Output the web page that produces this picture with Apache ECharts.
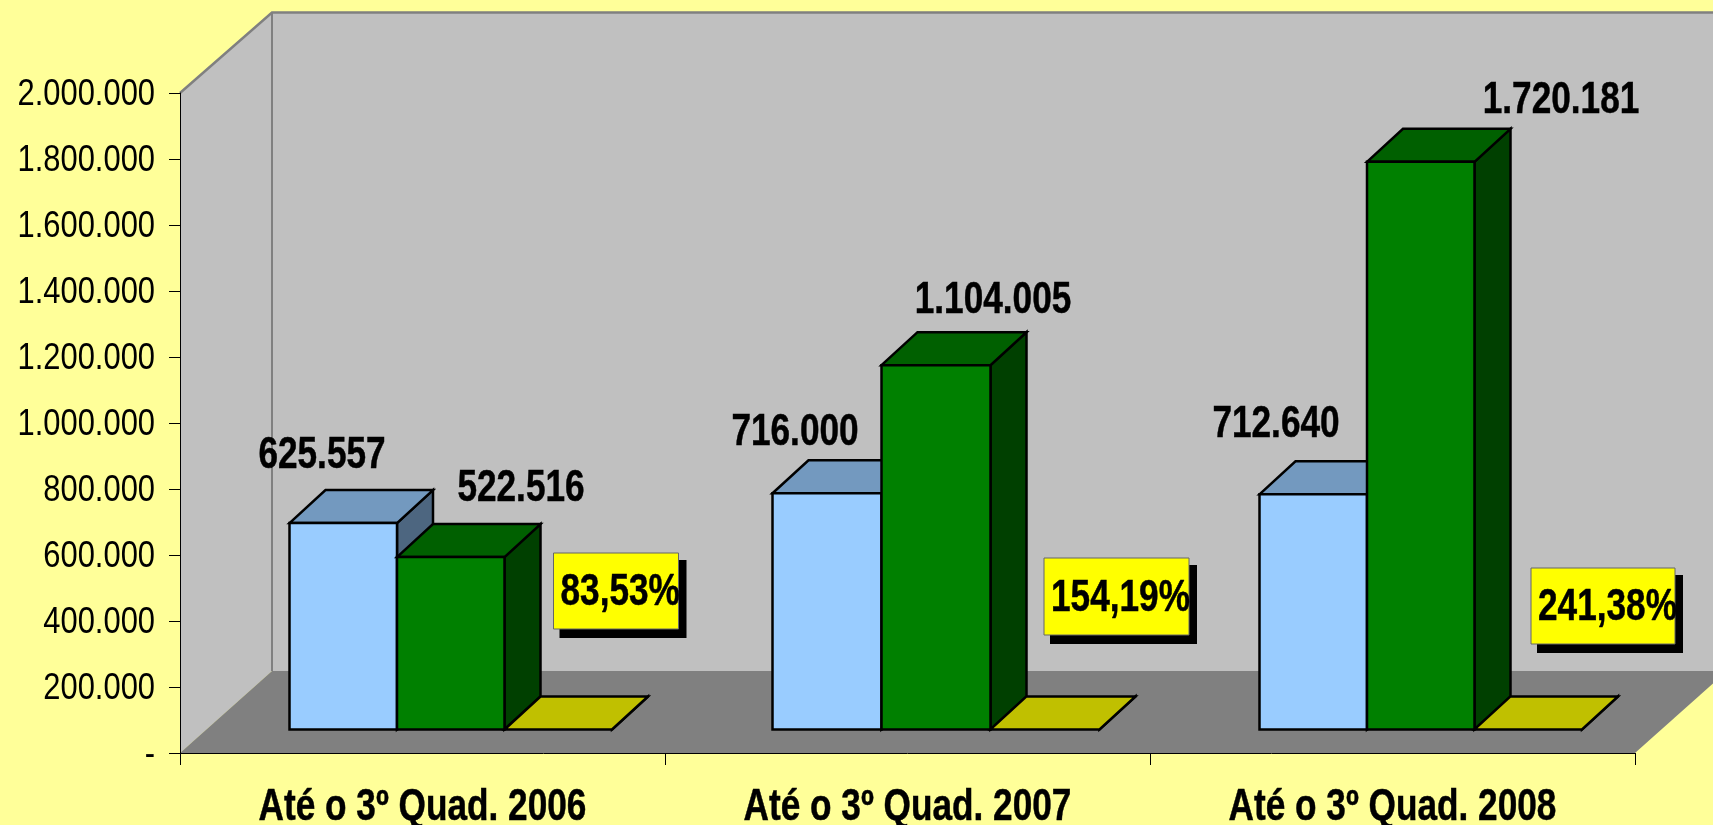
<!DOCTYPE html>
<html>
<head>
<meta charset="utf-8">
<style>html,body{margin:0;padding:0;background:#FFFF99}#c{width:1713px;height:825px}</style>
<script src="https://cdn.jsdelivr.net/npm/echarts@6/dist/echarts.min.js"></script>
</head>
<body>
<div id="c"></div>
<script>
const categories = ['Até o 3º Quad. 2006', 'Até o 3º Quad. 2007', 'Até o 3º Quad. 2008'];
const seriesA = [625557, 716000, 712640];
const seriesB = [522516, 1104005, 1720181];
const percent = [83.53, 154.19, 241.38];

// presentation only
const FONT = '"Liberation Sans",Arial,sans-serif';
const NARROW = 0.835, NARROW_BOLD = 0.80;  // the reference's Arial is horizontally condensed
const BOLD_SIZE = 44;
const labelOffA = [[-100.5, -67], [-112.5, -60.5], [-116.5, -69.5]];
const labelOffB = [[98.5, -68], [85.5, -64], [168.5, -60.5]];
const boxOff = [[131, 553, 125, 76], [136.5, 558, 145, 77], [138.5, 568, 144, 76]];
const WALL_DX = 92, WALL_DY = 82, WALL_TOP_DY = 80.5;
const BASE_DY = 23.5;                  // bars stand this far into the floor
const DX = 36, DY = 33;
const bandStart = [-133, -135, -133], bandWidth = [107.5, 109, 107.5];

const fmt = v => String(v).replace(/\B(?=(\d{3})+(?!\d))/g, '.');
const pct = v => v.toFixed(2).replace('.', ',') + '%';
const poly = (points, fill, stroke, lw) => ({type: 'polygon', shape: {points}, style: {fill, stroke: stroke || 'none', lineWidth: lw || 0, lineJoin: 'miter'}});

function walls(params, api) {
  const c = params.coordSys;
  const l = c.x, t = c.y, r = c.x + c.width, b = c.y + c.height;
  const dx = WALL_DX, dy = WALL_DY, dt = WALL_TOP_DY;
  return {type: 'group', children: [
    poly([[l, t], [l + dx, t - dt], [l + dx, b - dy], [l, b]], '#C0C0C0'),
    poly([[l + dx, t - dt], [r + dx, t - dt], [r + dx, b - dy], [l + dx, b - dy]], '#C0C0C0'),
    poly([[l, b], [l + dx, b - dy], [r + dx, b - dy], [r, b]], '#808080'),
    {type: 'polyline', shape: {points: [[l, t], [l + dx, t - dt], [r + dx, t - dt]]}, style: {fill: 'none', stroke: '#808080', lineWidth: 2.5}},
    {type: 'line', shape: {x1: l + dx, y1: t - dt, x2: l + dx, y2: b - dy}, style: {stroke: '#808080', lineWidth: 2}}
  ]};
}

function bar3d(k, front, top, side, labels, offs) {
  return function (params, api) {
    const i = api.value(0);
    const c0 = api.coord([i, 0]);
    const c1 = api.coord([i, api.value(1)]);
    const BW = bandWidth[i];
    const x0 = c0[0] + bandStart[i] + k * BW, x1 = x0 + BW;
    const yb = c0[1] - BASE_DY, yt = c1[1] - BASE_DY;
    const LW = 2.5;
    const kids = [
      poly([[x1, yt], [x1 + DX, yt - DY], [x1 + DX, yb - DY], [x1, yb]], side, '#000', LW),
      poly([[x0, yt], [x0 + DX, yt - DY], [x1 + DX, yt - DY], [x1, yt]], top, '#000', LW)
    ];
    if (yb - yt > 1) kids.push({type: 'rect', shape: {x: x0, y: yt, width: BW, height: yb - yt}, style: {fill: front, stroke: '#000', lineWidth: LW}});
    const font = 'bold ' + BOLD_SIZE + 'px ' + FONT;
    if (labels) {
      const o = offs[i];
      kids.push({type: 'text', x: c0[0] + o[0], y: yt + o[1], scaleX: NARROW_BOLD, style: {text: labels(api.value(1)), align: 'center', verticalAlign: 'middle', font, fill: '#000', stroke: '#000', lineWidth: 0.5}});
    } else {
      const b = boxOff[i], bx = c0[0] + b[0];
      kids.push({type: 'rect', shape: {x: bx + 6, y: b[1] + 7, width: b[2] + 2, height: b[3] + 2}, style: {fill: '#000'}});
      kids.push({type: 'rect', shape: {x: bx, y: b[1], width: b[2], height: b[3]}, style: {fill: '#FFFF00', stroke: '#666', lineWidth: 1}});
      kids.push({type: 'text', x: bx + 7, y: b[1] + b[3] / 2 + 2, scaleX: NARROW_BOLD, style: {text: pct(api.value(1)), align: 'left', verticalAlign: 'middle', font, fill: '#000', stroke: '#000', lineWidth: 0.5}});
    }
    return {type: 'group', children: kids};
  };
}

const chart = echarts.init(document.getElementById('c'), null, {renderer: 'canvas', width: 1713, height: 825});
chart.setOption({
  animation: false,
  backgroundColor: '#FFFF99',
  grid: {left: 180, top: 93, width: 1455, height: 660, containLabel: false, outerBoundsMode: 'none'},
  xAxis: {
    type: 'category', data: categories, z: 1,
    axisLine: {lineStyle: {color: '#000', width: 1}},
    axisTick: {show: true, length: 12, lineStyle: {color: '#000', width: 1}},
    axisLabel: {interval: 0, margin: 33, color: '#000', fontFamily: FONT, fontWeight: 'bold', fontSize: BOLD_SIZE, hideOverlap: false,
      textBorderColor: '#000', textBorderWidth: 0.5}
  },
  yAxis: {
    type: 'value', min: 0, max: 2000000, interval: 200000, z: 1,
    splitLine: {show: false},
    axisLine: {show: true, lineStyle: {color: '#000', width: 1}},
    axisTick: {show: true, length: 11, lineStyle: {color: '#000', width: 1}},
    axisLabel: {margin: 25, color: '#000', fontFamily: FONT, fontSize: 37,
      formatter: v => v === 0 ? '-' : fmt(v)}
  },
  series: [
    {type: 'custom', z: 0, silent: true, data: [[0, 0]], renderItem: walls, encode: {x: 0, y: 1}},
    {type: 'custom', z: 2, name: 'A', data: seriesA.map((v, i) => [i, v]), encode: {x: 0, y: 1},
      renderItem: bar3d(0, '#99CCFF', '#7399BF', '#4D6680', fmt, labelOffA)},
    {type: 'custom', z: 3, name: 'B', data: seriesB.map((v, i) => [i, v]), encode: {x: 0, y: 1},
      renderItem: bar3d(1, '#008000', '#006000', '#004000', fmt, labelOffB)},
    {type: 'custom', z: 3, name: '%', data: percent.map((v, i) => [i, v]), encode: {x: 0, y: 1},
      renderItem: bar3d(2, '#C0C000', '#C0C000', '#C0C000', null, null)}
  ]
});

// ECharts has no option for condensing axis label text: narrow the axis's own labels in place
const tickTexts = new Set([...Array.from({length: 10}, (_, i) => fmt((i + 1) * 200000)), '-']);
chart.getZr().storage.traverse(el => {
  if (el.type !== 'text' || !el.style) return;
  const s = el.style.text;
  if (categories.includes(s)) { el.scaleX = NARROW_BOLD; el.markRedraw(); }
  else if (tickTexts.has(s)) { el.scaleX = NARROW; el.y += 1.5; el.markRedraw(); }
});
chart.getZr().refresh();
</script>
</body>
</html>
